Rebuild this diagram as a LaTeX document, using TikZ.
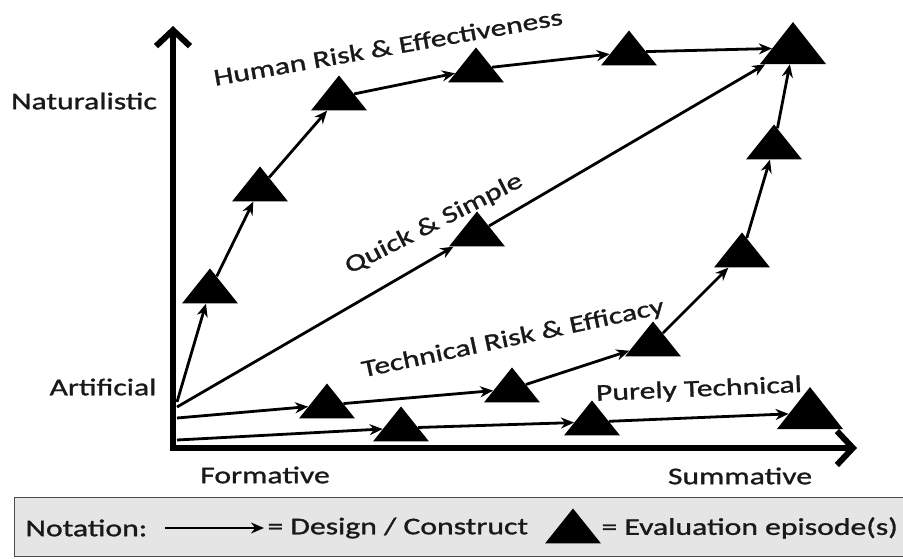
\documentclass[tikz,border=0pt]{standalone}
\usepackage{fontspec}
\setmainfont{Carlito}[FakeStretch=1.32,FakeBold=1.2]
\usetikzlibrary{arrows.meta,shapes.geometric}

\begin{document}
\begin{tikzpicture}[x=1pt,y=-1pt,
  every node/.style={font=\fontsize{24}{28}\selectfont, text=black!90},
  episode/.style={isosceles triangle, isosceles triangle stretches, shape border rotate=90, fill=black, inner sep=0pt, minimum width=56pt, minimum height=35pt},
  big episode/.style={episode, minimum width=66pt, minimum height=42pt},
  link/.style={line width=2.8pt, -{Stealth[length=13pt,width=11pt]}},
  axis/.style={line width=6pt, {Straight Barb[length=16pt,width=34pt]}-{Straight Barb[length=16pt,width=34pt]}}]

\useasboundingbox (0,0) rectangle (903,558);

% Axes
\coordinate (ytip) at (173,26);
\coordinate (o) at (173,448);
\coordinate (xtip) at (857,448);
\draw[axis] (ytip) -- (o) -- (xtip);

\node (nat) at (84,101) {Naturalistic};
\node (art) at (103,387) {Artificial};
\node (form) at (265,475) {Formative};
\node (summ) at (740,476) {Summative};

% Start points on the vertical axis
\coordinate (h0) at (177,402);
\coordinate (q0) at (177,407);
\coordinate (t0) at (177,418);
\coordinate (p0) at (177,440);

% Evaluation episodes
\foreach \i/\x/\y in {1/210/290, 2/260/188, 3/339/97, 4/476/69, 5/629/52} {
    \node[episode] (h\i) at (\x,\y) {};
}
\node[big episode] (top) at (793,48) {};
\node[episode] (q1) at (477,233) {};
\foreach \i/\x/\y in {1/327/405, 2/512/389, 3/653/343, 4/742/254, 5/774/146} {
    \node[episode] (t\i) at (\x,\y) {};
}
\foreach \i/\x/\y in {1/401/428, 2/592/422} {
    \node[episode] (p\i) at (\x,\y) {};
}
\node[big episode] (p3) at (810,413) {};

% Human Risk & Effectiveness
\draw[link] (h0) -- (h1);
\draw[link] (h1) -- (h2);
\draw[link] (h2) -- (h3);
\draw[link] (h3) -- (h4);
\draw[link] (h4) -- (h5);
\draw[link] (h5) -- (top);

% Quick & Simple
\draw[link] (q0) -- (q1);
\draw[link] (q1) -- (top);

% Technical Risk & Efficacy
\draw[link] (t0) -- (t1);
\draw[link] (t1) -- (t2);
\draw[link] (t2) -- (t3);
\draw[link] (t3) -- (t4);
\draw[link] (t4) -- (t5);
\draw[link] (t5) -- (top);

% Purely Technical
\draw[link] (p0) -- (p1);
\draw[link] (p1) -- (p2);
\draw[link] (p2) -- (p3);

\node[rotate=10] (lhuman) at (388,47) {Human Risk \& Effectiveness};
\node[rotate=27] (lquick) at (434,224) {Quick \& Simple};
\node[rotate=12] (ltech) at (513,339) {Technical Risk \& Efficacy};
\node[rotate=2.5] (lpure) at (699,390) {Purely Technical};

% Notation box
\draw[draw=black!70, fill=black!10, line width=1pt] (14,497) rectangle (910,556);
\node[anchor=west] (notation) at (22,528) {Notation:};
\coordinate (k0) at (165,528);
\coordinate (k1) at (264,528);
\draw[link] (k0) -- (k1);
\node[anchor=west] (design) at (264,528) {= Design / Construct};
\node[episode] (key) at (573,530) {};
\node[anchor=west] (evaluation) at (598,528) {= Evaluation episode(s)};

\end{tikzpicture}
\end{document}
